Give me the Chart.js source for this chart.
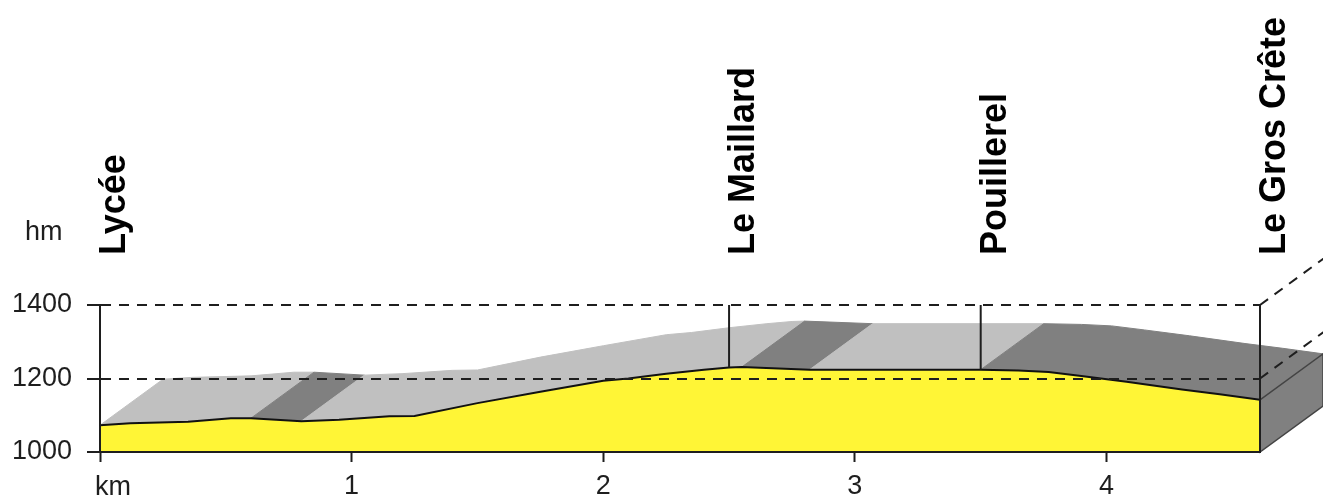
<!DOCTYPE html>
<html>
<head>
<meta charset="utf-8">
<script src="https://cdn.jsdelivr.net/npm/chart.js@4/dist/chart.umd.min.js"></script>
<style>
body{margin:0;background:#fff;}
canvas{display:block;}
</style>
</head>
<body>
<canvas id="profil" width="1323" height="498"></canvas>
<script>
// profile
const distKm = [0, 0.12, 0.35, 0.52, 0.60, 0.80, 0.95, 1.15, 1.25, 1.50, 1.75, 2.00, 2.10, 2.25, 2.40, 2.50, 2.55, 2.82, 3.50, 3.65, 3.77, 3.90, 4.08, 4.30, 4.45, 4.61];
const elevM  = [1073, 1078, 1082, 1092, 1092, 1084, 1088, 1097, 1098, 1133, 1164, 1194, 1200, 1213, 1224, 1230, 1231, 1224, 1224, 1222, 1218, 1207, 1191, 1170, 1157, 1142];

const placeNames = ['Lycée', 'Le Maillard', 'Pouillerel', 'Le Gros Crête'];
const placeKm = [0, 2.5, 3.5, 4.61];

const kmTicks = [0, 1, 2, 3, 4];
const hmTicks = [1000, 1200, 1400];

const FONT = '"Liberation Sans", Arial, sans-serif';
const INK = '#1e1e1e';
const YELLOW = '#fff536';
const LIGHT = '#c0c0c0';
const DARK = '#808080';
const DEPTH_X = 63;
const DEPTH_Y = 46;
const DASH = [10, 8];

function elevAt(km){
    for(let i=0;i<distKm.length-1;i++){
        if(km<=distKm[i+1]){
            const t=(km-distKm[i])/(distKm[i+1]-distKm[i]);
            return elevM[i]+t*(elevM[i+1]-elevM[i]);
        }
    }
    return elevM[elevM.length-1];
}

const relief = {
    id:'relief',

    beforeDatasetsDraw(chart){
        const ctx=chart.ctx;
        const xs=chart.scales.x;
        const ys=chart.scales.y;

        const pts=distKm.map((d,i)=>({
            x:xs.getPixelForValue(d),
            y:ys.getPixelForValue(elevM[i])
        }));

        // top surface, one polygon per run of rising / falling segments
        let i=0;
        while(i<pts.length-1){
            const down=elevM[i+1]<elevM[i];
            let j=i+1;
            while(j<pts.length-1 && (elevM[j+1]<elevM[j])===down) j++;

            ctx.save();
            ctx.beginPath();
            ctx.moveTo(pts[i].x,pts[i].y);
            for(let k=i+1;k<=j;k++) ctx.lineTo(pts[k].x,pts[k].y);
            for(let k=j;k>=i;k--) ctx.lineTo(pts[k].x+DEPTH_X,pts[k].y-DEPTH_Y);
            ctx.closePath();
            ctx.fillStyle=down?DARK:LIGHT;
            ctx.strokeStyle=down?DARK:LIGHT;
            ctx.lineWidth=1;
            ctx.fill();
            ctx.stroke();
            ctx.restore();

            i=j;
        }

        // right side face
        const end=pts[pts.length-1];
        const bottom=ys.getPixelForValue(hmTicks[0]);
        ctx.save();
        ctx.beginPath();
        ctx.moveTo(end.x,bottom);
        ctx.lineTo(end.x,end.y);
        ctx.lineTo(end.x+DEPTH_X,end.y-DEPTH_Y);
        ctx.lineTo(end.x+DEPTH_X,bottom-DEPTH_Y);
        ctx.closePath();
        ctx.fillStyle=DARK;
        ctx.fill();
        ctx.strokeStyle='#444';
        ctx.lineWidth=1.5;
        ctx.stroke();
        ctx.restore();
    },

    afterDraw(chart){
        const ctx=chart.ctx;
        const xs=chart.scales.x;
        const ys=chart.scales.y;
        const area=chart.chartArea;
        const topY=ys.getPixelForValue(hmTicks[hmTicks.length-1]);
        const bottom=ys.getPixelForValue(hmTicks[0]);

        ctx.save();
        ctx.strokeStyle=INK;
        ctx.lineWidth=2;

        // grid lines turning into the depth at the right end
        ctx.setLineDash(DASH);
        hmTicks.slice(1).forEach(v=>{
            const y=ys.getPixelForValue(v);
            ctx.beginPath();
            ctx.moveTo(area.right,y);
            ctx.lineTo(area.right+DEPTH_X*2,y-DEPTH_Y*2);
            ctx.stroke();
        });
        ctx.setLineDash([]);

        // place markers
        placeKm.forEach(km=>{
            const x=xs.getPixelForValue(km);
            ctx.beginPath();
            ctx.moveTo(x,topY);
            ctx.lineTo(x,ys.getPixelForValue(elevAt(km)));
            ctx.stroke();
        });

        // front face right edge
        const endKm=distKm[distKm.length-1];
        const ex=xs.getPixelForValue(endKm);
        ctx.beginPath();
        ctx.moveTo(ex,ys.getPixelForValue(elevAt(endKm)));
        ctx.lineTo(ex,bottom);
        ctx.stroke();

        // place names
        ctx.fillStyle='#000';
        ctx.font='bold 36px '+FONT;
        ctx.textAlign='left';
        ctx.textBaseline='alphabetic';
        placeKm.forEach((km,i)=>{
            const x=xs.getPixelForValue(km);
            ctx.save();
            ctx.translate(x+25,area.top-50);
            ctx.rotate(-Math.PI/2);
            ctx.fillText(placeNames[i],0,0);
            ctx.restore();
        });

        // unit labels
        ctx.fillStyle=INK;
        ctx.font='27px '+FONT;
        ctx.fillText('hm',ys.left+25,area.top-65);
        ctx.fillText('km',xs.getPixelForValue(0)-5,area.bottom+43);

        ctx.restore();
    }
};

new Chart(document.getElementById('profil'), {
    type:'line',
    data:{
        datasets:[{
            data:distKm.map((d,i)=>({x:d,y:elevM[i]})),
            borderColor:'#111',
            borderWidth:2,
            backgroundColor:YELLOW,
            fill:'origin',
            tension:0,
            pointRadius:0
        }]
    },
    options:{
        responsive:false,
        animation:false,
        devicePixelRatio:1,
        layout:{padding:{top:305,right:63,left:0,bottom:0}},
        plugins:{legend:{display:false},tooltip:{enabled:false}},
        scales:{
            x:{
                type:'linear',
                min:0,
                max:distKm[distKm.length-1],
                afterBuildTicks:s=>{s.ticks=kmTicks.map(v=>({value:v}));},
                afterFit:s=>{s.height=46;},
                ticks:{
                    callback:v=>v===0?'':String(v),
                    font:{family:FONT,size:27},
                    color:INK,
                    padding:8,
                    maxRotation:0
                },
                grid:{drawOnChartArea:false,color:INK,tickLength:10,tickWidth:2,z:1},
                border:{color:INK,width:2,z:1}
            },
            y:{
                min:hmTicks[0],
                max:hmTicks[hmTicks.length-1],
                afterBuildTicks:s=>{s.ticks=hmTicks.map(v=>({value:v}));},
                afterFit:s=>{s.width=100;},
                ticks:{
                    callback:v=>String(v),
                    font:{family:FONT,size:27},
                    color:INK,
                    padding:15
                },
                grid:{
                    color:c=>(c.tick && c.tick.value===hmTicks[0])?'rgba(0,0,0,0)':INK,
                    lineWidth:2,
                    tickLength:13,
                    tickColor:INK,
                    tickWidth:2,
                    z:1
                },
                border:{color:INK,width:2,dash:DASH,z:1}
            }
        }
    },
    plugins:[relief]
});
</script>
</body>
</html>
